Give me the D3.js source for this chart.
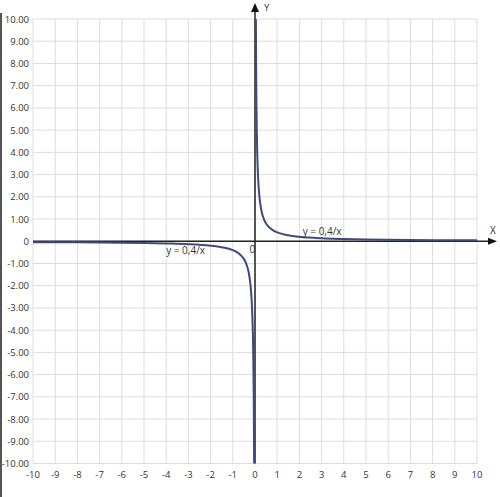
<!DOCTYPE html>
<html>
<head>
<meta charset="utf-8">
<script src="https://cdn.jsdelivr.net/npm/d3@7"></script>
<style>
  html, body { margin: 0; padding: 0; background: #fff; }
  svg text { font-family: "Open Sans", "DejaVu Sans", sans-serif; fill: #333; }
</style>
</head>
<body>
<div id="chart"></div>
<script>
// tick values
const xTicks = [-10, -9, -8, -7, -6, -5, -4, -3, -2, -1, 0, 1, 2, 3, 4, 5, 6, 7, 8, 9, 10];
const yTicks = [10, 9, 8, 7, 6, 5, 4, 3, 2, 1, 0, -1, -2, -3, -4, -5, -6, -7, -8, -9, -10];
const yTickLabels = ['10.00', '9.00', '8.00', '7.00', '6.00', '5.00', '4.00', '3.00', '2.00', '1.00', '0',
  '-1.00', '-2.00', '-3.00', '-4.00', '-5.00', '-6.00', '-7.00', '-8.00', '-9.00', '-10.00'];

// curve points y = 0,4/x, right branch
const posX = [0.04, 0.05, 0.06, 0.08, 0.1, 0.13, 0.16, 0.2, 0.25, 0.3, 0.4, 0.5, 0.6, 0.8, 1, 1.5, 2, 3, 4, 5, 6, 8, 10];
const posY = [10, 8, 6.67, 5, 4, 3.08, 2.5, 2, 1.6, 1.33, 1, 0.8, 0.67, 0.5, 0.4, 0.27, 0.2, 0.13, 0.1, 0.08, 0.067, 0.05, 0.04];
// left branch
const negX = [-10, -8, -6, -5, -4, -3, -2, -1.5, -1, -0.8, -0.6, -0.5, -0.4, -0.3, -0.25, -0.2, -0.16, -0.13, -0.1, -0.08, -0.06, -0.05, -0.04];
const negY = [-0.04, -0.05, -0.067, -0.08, -0.1, -0.13, -0.2, -0.27, -0.4, -0.5, -0.67, -0.8, -1, -1.33, -1.6, -2, -2.5, -3.08, -4, -5, -6.67, -8, -10];

const curveLabel = 'y = 0,4/x';

const W = 500, H = 497;
const svg = d3.select('#chart').append('svg')
  .attr('width', W).attr('height', H);

const x = d3.scaleLinear().domain([-10, 10]).range([33, 477]);
const y = d3.scaleLinear().domain([-10, 10]).range([463.5, 19]);

// left frame edge
svg.append('line')
  .attr('x1', 1).attr('x2', 1).attr('y1', 13).attr('y2', H)
  .attr('stroke', '#555').attr('stroke-width', 2);

// grid
const grid = svg.append('g');
grid.selectAll('.vg').data(xTicks).join('line')
  .attr('x1', d => x(d)).attr('x2', d => x(d))
  .attr('y1', y(10)).attr('y2', y(-10))
  .attr('stroke', '#dcdcdc').attr('stroke-width', 1);
grid.selectAll('.hg').data(yTicks).join('line')
  .attr('y1', d => y(d)).attr('y2', d => y(d))
  .attr('x1', x(-10)).attr('x2', x(10))
  .attr('stroke', '#dcdcdc').attr('stroke-width', 1);

// tick labels
svg.append('g').selectAll('text').data(yTicks).join('text')
  .attr('x', 29).attr('y', d => y(d) + 3.5)
  .attr('text-anchor', 'end').attr('font-size', 9.5)
  .text((d, i) => yTickLabels[i]);

svg.append('g').selectAll('text').data(xTicks).join('text')
  .attr('x', d => x(d)).attr('y', 478)
  .attr('text-anchor', 'middle').attr('font-size', 9.5)
  .text(d => d);

// axes
svg.append('line')
  .attr('x1', x(-10)).attr('x2', 492).attr('y1', y(0)).attr('y2', y(0))
  .attr('stroke', '#222').attr('stroke-width', 1.5);
svg.append('path')
  .attr('d', `M497,${y(0)} L488,${y(0) - 3.5} L488,${y(0) + 3.5} Z`)
  .attr('fill', '#111');

svg.append('line')
  .attr('x1', x(0)).attr('x2', x(0)).attr('y1', y(-10)).attr('y2', 8)
  .attr('stroke', '#222').attr('stroke-width', 1.5);
svg.append('path')
  .attr('d', `M${x(0)},3 L${x(0) - 4},12 L${x(0) + 4},12 Z`)
  .attr('fill', '#111');

// curve
const line = d3.line()
  .x(d => x(d[0])).y(d => y(d[1]))
  .curve(d3.curveMonotoneX);

svg.append('path')
  .datum(posX.map((v, i) => [v, posY[i]]))
  .attr('d', line)
  .attr('fill', 'none').attr('stroke', '#3c4a7e').attr('stroke-width', 2);
svg.append('path')
  .datum(negX.map((v, i) => [v, negY[i]]))
  .attr('d', line)
  .attr('fill', 'none').attr('stroke', '#3c4a7e').attr('stroke-width', 2);

// annotations
svg.append('text').attr('x', x(2.15)).attr('y', y(0) - 6)
  .attr('font-size', 10).text(curveLabel);
svg.append('text').attr('x', x(-4.0)).attr('y', y(0) + 13)
  .attr('font-size', 10).text(curveLabel);
svg.append('text').attr('x', x(-0.25)).attr('y', y(0) + 12)
  .attr('font-size', 10).text('0');
svg.append('text').attr('x', 490).attr('y', y(0) - 7)
  .attr('font-size', 10).text('X');
svg.append('text').attr('x', 264).attr('y', 11)
  .attr('font-size', 9.5).text('Y');
</script>
</body>
</html>
